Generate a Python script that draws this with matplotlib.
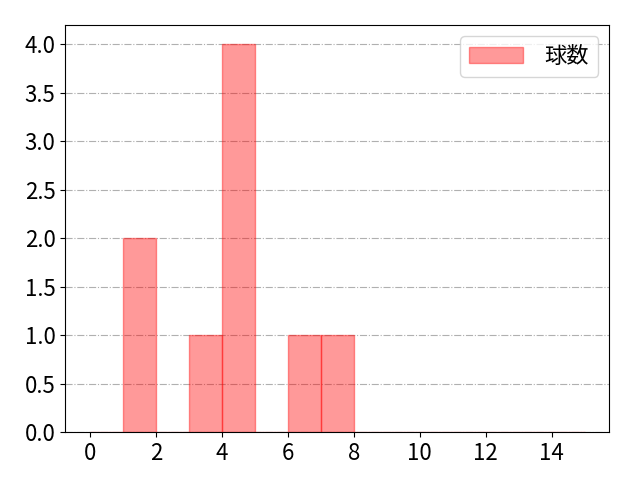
import matplotlib
matplotlib.use("Agg")
import matplotlib.pyplot as plt

plt.rcParams['font.family'] = ['Noto Sans CJK JP', 'DejaVu Sans']

# 球数ごとの値 (ヒストグラムの元データ)
pitches = [1, 1, 3, 4, 4, 4, 4, 6, 7]
bins = list(range(0, 16))
xticks = list(range(0, 16, 2))
label = '球数'

fig, ax = plt.subplots(figsize=(6.4, 4.8), dpi=100)
ax.hist(pitches, bins=bins, color='red', alpha=0.4, edgecolor='red', label=label)
ax.set_xticks(xticks)
ax.grid(axis='y', linestyle='-.', color='#b0b0b0', linewidth=0.8)
ax.set_axisbelow(True)
ax.tick_params(labelsize=16)
ax.legend(fontsize=16, handlelength=2.4, handletextpad=1.0, loc='upper right')
fig.subplots_adjust(left=0.102, right=0.952, top=0.948, bottom=0.1)
fig.savefig('out.png')
